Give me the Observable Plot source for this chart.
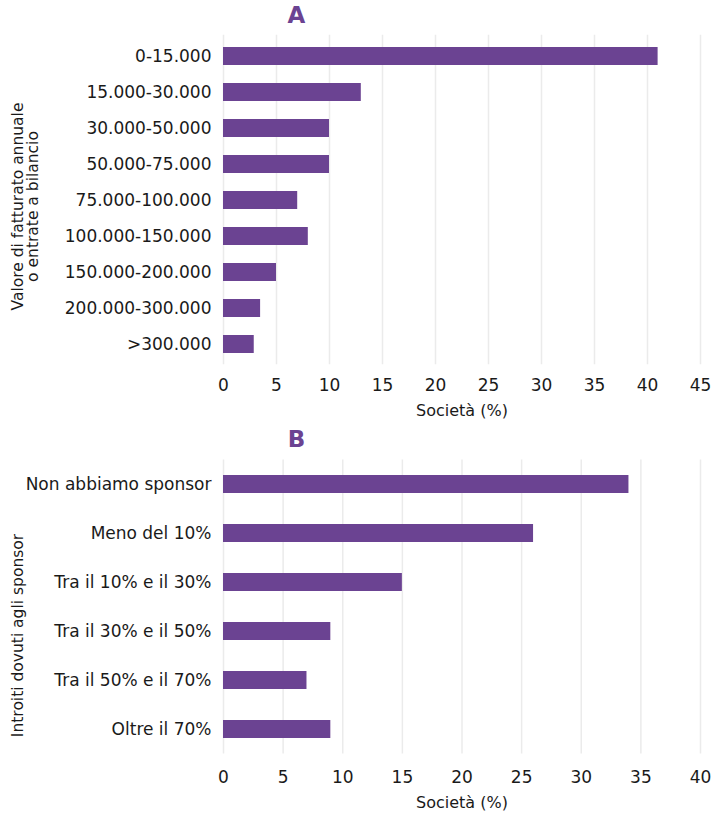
<!DOCTYPE html>
<html>
<head>
<meta charset="utf-8">
<script src="https://cdn.jsdelivr.net/npm/d3@7"></script>
<script src="https://cdn.jsdelivr.net/npm/@observablehq/plot@0.6"></script>
<style>
  html, body { margin: 0; padding: 0; background: #fff; }
  #chart { width: 716px; }
  #chart svg { display: block; font-family: "DejaVu Sans", "Noto Sans", sans-serif; }
</style>
</head>
<body>
<div id="chart"></div>
<script>
const revenueCategories = ["0-15.000", "15.000-30.000", "30.000-50.000", "50.000-75.000", "75.000-100.000", "100.000-150.000", "150.000-200.000", "200.000-300.000", ">300.000"];
const revenueValues = [41, 13, 10, 10, 7, 8, 5, 3.5, 2.9];
const revenueTicks = [0, 5, 10, 15, 20, 25, 30, 35, 40, 45];

const sponsorCategories = ["Non abbiamo sponsor", "Meno del 10%", "Tra il 10% e il 30%", "Tra il 30% e il 50%", "Tra il 50% e il 70%", "Oltre il 70%"];
const sponsorValues = [34, 26, 15, 9, 7, 9];
const sponsorTicks = [0, 5, 10, 15, 20, 25, 30, 35, 40];

const barColor = "#6b4392";
const gridColor = "#ebebeb";
const textColor = "#1a1a1a";

function panel(o) {
  const data = o.cats.map((c, i) => ({cat: c, v: o.vals[i]}));
  const frameMid = (o.marginTop + o.height - o.marginBottom) / 2;
  return Plot.plot({
    width: 716,
    height: o.height,
    marginLeft: 223,
    marginRight: 16,
    marginTop: o.marginTop,
    marginBottom: o.marginBottom,
    style: {fontSize: "17px", color: textColor, background: "#fff"},
    x: {domain: [0, o.xmax], ticks: o.ticks},
    y: {domain: o.cats, paddingInner: o.pi, paddingOuter: o.po},
    marks: [
      Plot.gridX(o.ticks, {stroke: gridColor, strokeOpacity: 1, strokeWidth: 1.5}),
      Plot.barX(data, {x: "v", y: "cat", fill: barColor}),
      Plot.axisY({tickSize: 0, tickPadding: 12, label: null, fontSize: 17, fill: textColor}),
      Plot.axisX(o.ticks, {tickSize: 0, tickPadding: o.tickPad, fontSize: 17, fill: textColor, label: null, tickFormat: d => String(d)}),
      Plot.text(["Società (%)"], {frameAnchor: "bottom", lineAnchor: "middle", dy: o.xLabelDy, fontSize: 16, fill: textColor}),
      Plot.text([o.yLabel], {x: () => 0, frameAnchor: "left", textAnchor: "middle", lineAnchor: "middle", dx: o.yLabelX - 223, dy: o.yLabelY - frameMid, rotate: -90, fontSize: 15.5, lineHeight: 0.97, fill: textColor}),
      Plot.text([o.title], {frameAnchor: "top-left", textAnchor: "middle", lineAnchor: "middle", dx: 73, dy: o.titleY - o.marginTop, fontSize: 23, fontWeight: "bold", fill: barColor})
    ]
  });
}

const chartA = panel({
  title: "A",
  cats: revenueCategories,
  vals: revenueValues,
  ticks: revenueTicks,
  xmax: 45,
  yLabel: "Valore di fatturato annuale\no entrate a bilancio",
  height: 420,
  marginTop: 34.7,
  marginBottom: 55.7,
  pi: 0.5,
  po: 0.25,
  tickPad: 14,
  xLabelDy: 45.7,
  yLabelX: 25.5,
  yLabelY: 206,
  titleY: 15
});
const chartB = panel({
  title: "B",
  cats: sponsorCategories,
  vals: sponsorValues,
  ticks: sponsorTicks,
  xmax: 40,
  yLabel: "Introiti dovuti agli sponsor",
  height: 394,
  marginTop: 39.5,
  marginBottom: 60.5,
  pi: 0.63,
  po: 0.315,
  tickPad: 16.5,
  xLabelDy: 48.5,
  yLabelX: 18,
  yLabelY: 215,
  titleY: 19
});
document.getElementById("chart").append(chartA, chartB);
</script>
</body>
</html>
